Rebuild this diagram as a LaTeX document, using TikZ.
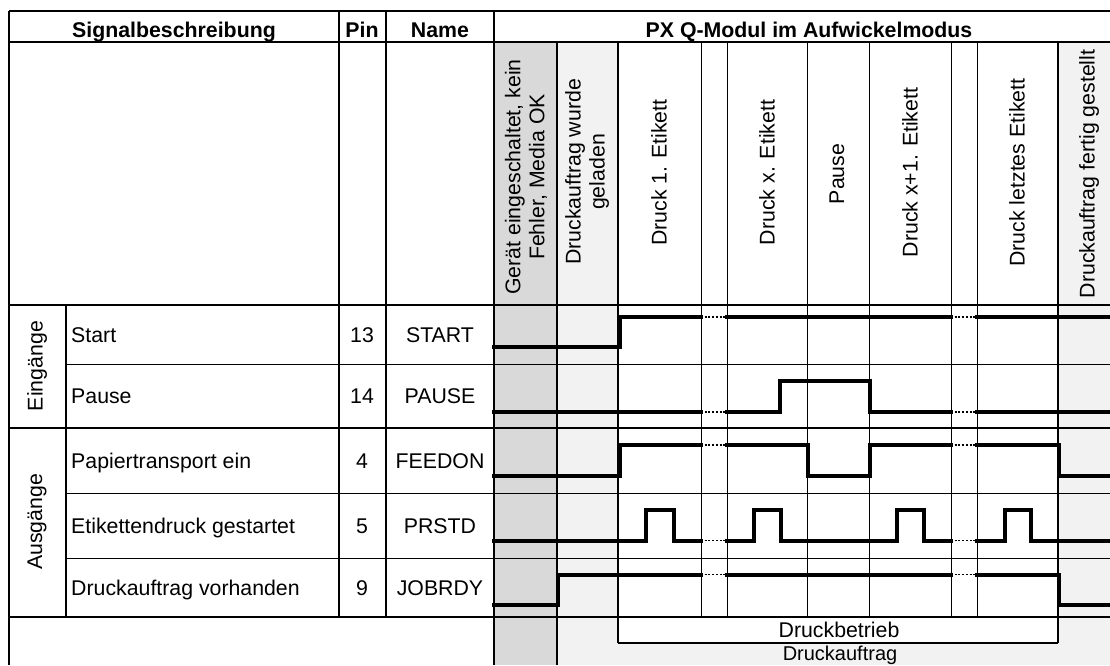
\documentclass[tikz,border=0pt]{standalone}
\usepackage{fontspec}
\setmainfont{Liberation Sans}
\definecolor{darkgrey}{HTML}{D9D9D9}
\definecolor{lightgrey}{HTML}{F2F2F2}
\begin{document}
\begin{tikzpicture}[x=1pt,y=-1pt,
  every node/.style={inner sep=0pt, font=\fontsize{21.3}{24}\selectfont},
  hdr/.style={font=\fontsize{21.3}{24}\selectfont\bfseries, anchor=base},
  txt/.style={anchor=base},
  rot/.style={rotate=90, align=center, anchor=center},
  thickrule/.style={line width=2pt},
  thinrule/.style={line width=1pt},
  sig/.style={line width=4pt, line join=miter, line cap=rect},
  gap/.style={line width=1.7pt, dash pattern=on 2pt off 1.7pt}]
\useasboundingbox (0,0) rectangle (1110,665);
\clip (0,0) rectangle (1110,665);
% fills
\fill[darkgrey] (494,42) rectangle (557,665);
\fill[lightgrey] (557,42) rectangle (618,617);
\fill[lightgrey] (557,617) rectangle (1110,665);
\fill[lightgrey] (1058,42) rectangle (1110,617);
\fill[white] (618,617) rectangle (1058,643);
% thin grid lines
\foreach \y in {364,493,558} \draw[thinrule] (66,\y) -- (1110,\y);
\foreach \x in {701,727,807,869,951,977} \draw[thinrule] (\x,42) -- (\x,617);
% thick rules
\foreach \y in {11,42,305,428,617} \draw[thickrule] (9,\y) -- (1110,\y);
\draw[thickrule] (9,11) -- (9,665);
\draw[thickrule] (66,305) -- (66,617);
\draw[thickrule] (339,11) -- (339,617);
\draw[thickrule] (386,11) -- (386,617);
\draw[thickrule] (494,11) -- (494,665);
\draw[thickrule] (557,42) -- (557,665);
\draw[thickrule] (618,42) -- (618,643);
\draw[thickrule] (1058,42) -- (1058,643);
\draw[thickrule] (618,643) -- (1058,643);
% header texts
\node[hdr] (hsig) at (174,37) {Signalbeschreibung};
\node[hdr] (hpin) at (362,37) {Pin};
\node[hdr] (hname) at (440,37) {Name};
\node[hdr] (hpx) at (809,37) {PX Q-Modul im Aufwickelmodus};
\node[rot] (c1) at (526,177) {Gerät eingeschaltet, kein\\Fehler, Media OK};
\node[rot] (c2) at (587,172) {Druckauftrag wurde\\geladen};
\node[rot] (c3) at (659,172.5) {Druck 1. Etikett};
\node[rot] (c4) at (767,172.5) {Druck x. Etikett};
\node[rot] (c5) at (837,174) {Pause};
\node[rot] (c6) at (910,172.5) {Druck x+1. Etikett};
\node[rot] (c7) at (1017,172.5) {Druck letztes Etikett};
\node[rot] (c8) at (1089,174) {Druckauftrag fertig gestellt};
% group labels
\node[rot] (gin) at (37,366) {Eingänge};
\node[rot] (gout) at (37,522) {Ausgänge};
% rows
\node[txt, anchor=base west] (d1) at (71,342) {Start};
\node[txt, anchor=base west] (d2) at (71,403.5) {Pause};
\node[txt, anchor=base west] (d3) at (71,468) {Papiertransport ein};
\node[txt, anchor=base west] (d4) at (71,533) {Etikettendruck gestartet};
\node[txt, anchor=base west] (d5) at (71,595) {Druckauftrag vorhanden};
\node[txt] (p1) at (362,342) {13};
\node[txt] (p2) at (362,403.5) {14};
\node[txt] (p3) at (362,468) {4};
\node[txt] (p4) at (362,533) {5};
\node[txt] (p5) at (362,595) {9};
\node[txt] (n1) at (440,342) {START};
\node[txt] (n2) at (440,403.5) {PAUSE};
\node[txt] (n3) at (440,468) {FEEDON};
\node[txt] (n4) at (440,533) {PRSTD};
\node[txt] (n5) at (440,595) {JOBRDY};
% bottom labels
\node[txt] (lb1) at (839,637) {Druckbetrieb};
\node[txt, font=\fontsize{20}{22}\selectfont] (lb2) at (840,660) {Druckauftrag};
% signals
% START
\draw[sig] (494,347) -- (619.5,347) -- (619.5,317) -- (701,317);
\draw[gap] (701,317) -- (727,317);
\draw[sig] (727,317) -- (951,317);
\draw[gap] (951,317) -- (977,317);
\draw[sig] (977,317) -- (1112,317);
% PAUSE
\draw[sig] (494,412) -- (701,412);
\draw[gap] (701,412) -- (727,412);
\draw[sig] (727,412) -- (780,412) -- (780,381) -- (870,381) -- (870,412) -- (951,412);
\draw[gap] (951,412) -- (977,412);
\draw[sig] (977,412) -- (1112,412);
% FEEDON
\draw[sig] (494,476) -- (619.5,476) -- (619.5,445) -- (701,445);
\draw[gap] (701,445) -- (727,445);
\draw[sig] (727,445) -- (807.5,445) -- (807.5,476) -- (870,476) -- (870,445) -- (951,445);
\draw[gap] (951,445) -- (977,445);
\draw[sig] (977,445) -- (1058.5,445) -- (1058.5,476) -- (1112,476);
% PRSTD
\draw[sig] (494,540.5) -- (646,540.5) -- (646,509.5) -- (673.5,509.5) -- (673.5,540.5) -- (701,540.5);
\draw[gap] (701,540.5) -- (727,540.5);
\draw[sig] (727,540.5) -- (753.5,540.5) -- (753.5,509.5) -- (780.5,509.5) -- (780.5,540.5) -- (897,540.5) -- (897,509.5) -- (923.5,509.5) -- (923.5,540.5) -- (951,540.5);
\draw[gap] (951,540.5) -- (977,540.5);
\draw[sig] (977,540.5) -- (1004.5,540.5) -- (1004.5,509.5) -- (1031,509.5) -- (1031,540.5) -- (1112,540.5);
% JOBRDY
\draw[sig] (494,605) -- (558,605) -- (558,574.5) -- (701,574.5);
\draw[gap] (701,574.5) -- (727,574.5);
\draw[sig] (727,574.5) -- (951,574.5);
\draw[gap] (951,574.5) -- (977,574.5);
\draw[sig] (977,574.5) -- (1058.5,574.5) -- (1058.5,605) -- (1112,605);
\end{tikzpicture}
\end{document}
